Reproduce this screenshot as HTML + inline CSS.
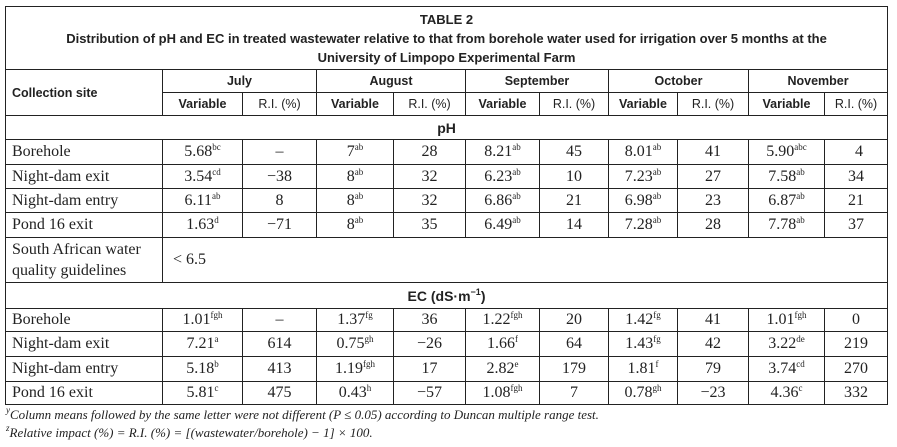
<!DOCTYPE html>
<html><head><meta charset="utf-8"><style>
body{margin:0;width:897px;height:447px;background:#fff;position:relative;overflow:hidden}
table{position:absolute;left:5px;top:6px;border-collapse:collapse;table-layout:fixed;width:882px}
td{border:1.3px solid #222;padding:0;text-align:center;font-family:"Liberation Serif",serif;font-size:16px;color:#222;white-space:nowrap;overflow:hidden}
.h{font-family:"Liberation Sans",sans-serif;font-weight:bold;font-size:12.5px}
.l{text-align:left;padding-left:6px}
sup{font-size:9px;vertical-align:6px;line-height:0}
.fn{position:absolute;left:6px;font-family:"Liberation Serif",serif;font-style:italic;font-size:13px;color:#222}
</style></head><body>
<table>
<colgroup><col style="width:157px"><col style="width:80px"><col style="width:74px"><col style="width:77px"><col style="width:72px"><col style="width:74px"><col style="width:69px"><col style="width:69px"><col style="width:71px"><col style="width:76px"><col style="width:63px"></colgroup>
<tr style="height:63px"><td colspan="11" class="h" style="font-size:13px;line-height:19px">TABLE 2<br>Distribution of pH and EC in treated wastewater relative to that from borehole water used for irrigation over 5 months at the<br>University of Limpopo Experimental Farm</td></tr>
<tr style="height:23px"><td rowspan="2" class="h l">Collection site</td><td colspan="2" class="h">July</td><td colspan="2" class="h">August</td><td colspan="2" class="h">September</td><td colspan="2" class="h">October</td><td colspan="2" class="h">November</td></tr>
<tr style="height:23px"><td class="h">Variable</td><td class="h" style="font-weight:normal">R.I. (%)</td><td class="h">Variable</td><td class="h" style="font-weight:normal">R.I. (%)</td><td class="h">Variable</td><td class="h" style="font-weight:normal">R.I. (%)</td><td class="h">Variable</td><td class="h" style="font-weight:normal">R.I. (%)</td><td class="h">Variable</td><td class="h" style="font-weight:normal">R.I. (%)</td></tr>
<tr style="height:24px"><td colspan="11" class="h" style="font-size:14px">pH</td></tr>
<tr style="height:25px"><td class="l">Borehole</td><td>5.68<sup>bc</sup></td><td>–</td><td>7<sup>ab</sup></td><td>28</td><td>8.21<sup>ab</sup></td><td>45</td><td>8.01<sup>ab</sup></td><td>41</td><td>5.90<sup>abc</sup></td><td style="padding-left:6px">4</td></tr>
<tr style="height:24px"><td class="l">Night-dam exit</td><td>3.54<sup>cd</sup></td><td>−38</td><td>8<sup>ab</sup></td><td>32</td><td>6.23<sup>ab</sup></td><td>10</td><td>7.23<sup>ab</sup></td><td>27</td><td>7.58<sup>ab</sup></td><td>34</td></tr>
<tr style="height:24px"><td class="l">Night-dam entry</td><td>6.11<sup>ab</sup></td><td>8</td><td>8<sup>ab</sup></td><td>32</td><td>6.86<sup>ab</sup></td><td>21</td><td>6.98<sup>ab</sup></td><td>23</td><td>6.87<sup>ab</sup></td><td>21</td></tr>
<tr style="height:25px"><td class="l">Pond 16 exit</td><td>1.63<sup>d</sup></td><td>−71</td><td>8<sup>ab</sup></td><td>35</td><td>6.49<sup>ab</sup></td><td>14</td><td>7.28<sup>ab</sup></td><td>28</td><td>7.78<sup>ab</sup></td><td>37</td></tr>
<tr style="height:45px"><td class="l" style="line-height:21px">South African water<br>quality guidelines</td><td colspan="10" style="text-align:left;padding-left:10px">&lt; 6.5</td></tr>
<tr style="height:26px"><td colspan="11" class="h" style="font-size:14px">EC (dS·m<sup>−1</sup>)</td></tr>
<tr style="height:23px"><td class="l">Borehole</td><td>1.01<sup>fgh</sup></td><td>–</td><td>1.37<sup>fg</sup></td><td>36</td><td>1.22<sup>fgh</sup></td><td>20</td><td>1.42<sup>fg</sup></td><td>41</td><td>1.01<sup>fgh</sup></td><td>0</td></tr>
<tr style="height:25px"><td class="l">Night-dam exit</td><td>7.21<sup>a</sup></td><td>614</td><td>0.75<sup>gh</sup></td><td>−26</td><td>1.66<sup>f</sup></td><td>64</td><td>1.43<sup>fg</sup></td><td>42</td><td>3.22<sup>de</sup></td><td>219</td></tr>
<tr style="height:25px"><td class="l">Night-dam entry</td><td>5.18<sup>b</sup></td><td>413</td><td>1.19<sup>fgh</sup></td><td>17</td><td>2.82<sup>e</sup></td><td>179</td><td>1.81<sup>f</sup></td><td>79</td><td>3.74<sup>cd</sup></td><td>270</td></tr>
<tr style="height:23px"><td class="l">Pond 16 exit</td><td>5.81<sup>c</sup></td><td>475</td><td>0.43<sup>h</sup></td><td>−57</td><td>1.08<sup>fgh</sup></td><td>7</td><td>0.78<sup>gh</sup></td><td>−23</td><td>4.36<sup>c</sup></td><td>332</td></tr>
</table>
<div class="fn" style="top:407px"><sup>y</sup>Column means followed by the same letter were not different (P ≤ 0.05) according to Duncan multiple range test.</div>
<div class="fn" style="top:425px"><sup>z</sup>Relative impact (%) = R.I. (%) = [(wastewater/borehole) − 1] × 100.</div>
</body></html>
